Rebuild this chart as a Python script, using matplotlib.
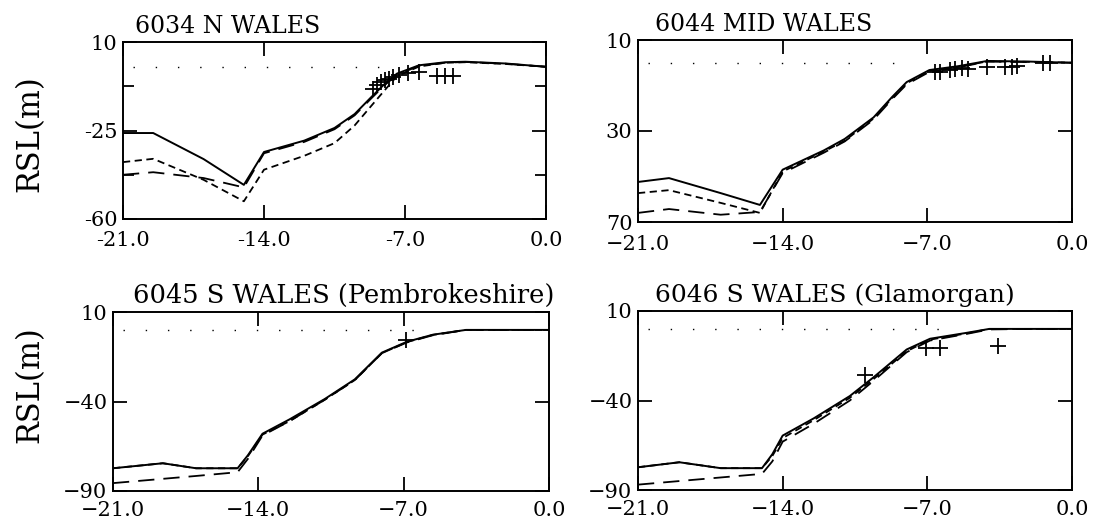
import matplotlib
matplotlib.use("Agg")
import matplotlib.pyplot as plt
from matplotlib.ticker import FixedLocator, FixedFormatter

# ---------------- data ----------------
titles = ["6034 N WALES", "6044 MID WALES",
          "6045 S WALES (Pembrokeshire)", "6046 S WALES (Glamorgan)"]

# Panel 1: 6034 N WALES
t1 = [-21, -19.5, -17, -15, -14, -12, -10.5, -9.5, -8.7, -8, -7.4, -6.3, -5, -4, -2, 0]
solid1 = [-26, -26, -36.3, -46.5, -33.5, -29, -24, -18.5, -12, -6.5, -2.5, 0.8, 2.0, 2.2, 1.5, 0.2]
short1 = [-37.5, -36.2, -44.5, -53, -40.5, -35, -30, -23, -15.5, -9, -3.5, 0.3, 1.8, 2.0, 1.3, 0.2]
long1 = [-42.5, -41.5, -43.8, -47.5, -34, -29.5, -24.5, -19, -12.5, -7, -3, 0.6, 1.8, 2.1, 1.4, 0.2]
obs_x1 = [-8.6, -8.4, -8.2, -8.0, -7.8, -7.6, -7.3, -6.85, -6.3, -5.4, -5.0, -4.6]
obs_y1 = [-8.5, -7.0, -6.0, -5.0, -4.5, -3.8, -3.0, -2.3, -2.0, -3.5, -3.5, -3.5]

# Panel 2: 6044 MID WALES
t2 = [-21, -19.5, -17, -15.1, -14, -12, -11, -9.6, -8.7, -8, -6.9, -5.5, -4.1, -2, 0]
solid2 = [-52.4, -50.7, -57.3, -62.5, -47, -38.5, -33.5, -24, -15, -8.5, -3.2, -1.5, 0.8, 0.5, 0]
short2 = [-57.3, -56, -61.6, -66, -47.8, -39, -34.3, -24.5, -15.5, -9, -3.6, -1.8, 0.6, 0.4, 0]
long2 = [-66, -64.3, -66.8, -65.6, -48.5, -39.5, -34.6, -25, -16, -9.5, -4, -2, 0.5, 0.3, 0]
obs_x2 = [-6.63, -6.39, -5.9, -5.66, -5.32, -5.03, -4.11, -3.24, -2.9, -2.66, -1.4, -1.07]
obs_y2 = [-4.1, -4.1, -3.2, -2.7, -2.3, -2.7, -1.9, -1.9, -1.9, -1.4, -0.1, -0.1]

# Panel 3: 6045 S WALES (Pembrokeshire)
t3 = [-21, -18.6, -17, -15, -14.5, -13.8, -12.5, -10.8, -9.35, -8.05, -6.84, -5.6, -4, -2, 0]
solid3 = [-77.3, -74.5, -77.3, -77.3, -70, -58, -50, -38.6, -27.6, -12.7, -6.6, -2.7, 0, 0, 0]
short3 = [-77.3, -74.5, -77.3, -77.3, -70.5, -58.5, -51, -39, -28, -13, -6.8, -2.8, 0, 0, 0]
long3 = [-85.6, -83.2, -81.6, -79.5, -72, -59, -51, -39, -28, -13, -7, -3, 0, 0, 0]
obs_x3 = [-6.9]
obs_y3 = [-5.5]

# Panel 4: 6046 S WALES (Glamorgan)
t4 = [-21, -19, -17, -15, -14.5, -14, -12.5, -10.75, -9.6, -8, -6.87, -5.1, -4, -2, 0]
solid4 = [-77.3, -74.5, -77.8, -77.8, -70, -59.6, -50, -37.5, -27, -11.5, -5.5, -2.2, 0, 0, 0]
short4 = [-77.3, -74.5, -77.8, -77.8, -71, -61, -51, -38.5, -28, -12.5, -6, -2.5, 0, 0, 0]
long4 = [-87, -85, -83, -81, -74, -63, -53, -40, -29, -13, -6.5, -2.8, -0.3, 0, 0]
obs_x4 = [-10.0, -7.05, -6.4, -3.6]
obs_y4 = [-26, -10.5, -10.5, -9.5]

xticks = [-21, -14, -7, 0]
xlabels_p1 = ["-21.0", "-14.0", "-7.0", "0.0"]
xlabels = ["\u221221.0", "\u221214.0", "\u22127.0", "0.0"]

ylims = [(-60, 10), (-70, 10), (-90, 10), (-90, 10)]
yticks = [[-60, -25, 10], [-70, -30, 10], [-90, -40, 10], [-90, -40, 10]]
ylabels = [["-60", "-25", "10"], ["70", "30", "10"],
           ["\u221290", "\u221240", "10"], ["\u221290", "\u221240", "10"]]
yminor_p1 = [-42.5, -7.5]
dot_end = [-7.6, -7.7, -5.6, -5.6]

series = [
    (t1, solid1, short1, long1, obs_x1, obs_y1),
    (t2, solid2, short2, long2, obs_x2, obs_y2),
    (t3, solid3, short3, long3, obs_x3, obs_y3),
    (t4, solid4, short4, long4, obs_x4, obs_y4),
]

# ---------------- figure ----------------
W, H = 1095, 525
fig = plt.figure(figsize=(W / 100, H / 100), dpi=100)
plt.rcParams['font.family'] = ['DejaVu Serif']

# axes boxes in pixels: left, right, top, bottom
boxes = [(123, 546, 42, 219), (638, 1072, 40, 222),
         (113, 549, 312, 491), (638, 1072, 311, 490)]
title_off = [0.028, 0.04, 0.046, 0.04]
title_size = [17, 17, 18.5, 18]
xpad = [9, 9, 7.5, 7.5]

for i, (bx, data) in enumerate(zip(boxes, series)):
    l, r, t, b = bx
    ax = fig.add_axes([l / W, (H - b) / H, (r - l) / W, (b - t) / H])
    tt, s, sd, ld, ox, oy = data
    ax.plot([-20.5, dot_end[i]], [0, 0], color='black', lw=1.0,
            linestyle=(0, (1, 15)))
    ax.plot(tt, ld, color='black', lw=1.3, linestyle=(0, (9, 5)))
    ax.plot(tt, sd, color='black', lw=1.3, linestyle=(0, (4, 2.5)))
    ax.plot(tt, s, color='black', lw=1.4, linestyle='-')
    ax.plot(ox, oy, linestyle='none', marker='+', color='black',
            markersize=11, markeredgewidth=1.3)
    ax.set_xlim(-21, 0)
    ax.set_ylim(*ylims[i])
    ax.xaxis.set_major_locator(FixedLocator(xticks))
    ax.xaxis.set_major_formatter(FixedFormatter(xlabels_p1 if i == 0 else xlabels))
    ax.yaxis.set_major_locator(FixedLocator(yticks[i]))
    ax.yaxis.set_major_formatter(FixedFormatter(ylabels[i]))
    if i == 0:
        ax.yaxis.set_minor_locator(FixedLocator(yminor_p1))
    ax.tick_params(which='both', direction='in', top=True, right=True,
                   length=10, width=1.3, labelsize=15, color='black')
    ax.tick_params(axis='x', pad=xpad[i])
    ax.tick_params(axis='y', pad=4)
    ax.tick_params(which='minor', length=8)
    for sp in ax.spines.values():
        sp.set_linewidth(1.4)
    ax.text(title_off[i], 1.05, titles[i], transform=ax.transAxes,
            ha='left', va='baseline', fontsize=title_size[i])

fig.text(30 / W, 1 - 134 / H, "RSL(m)", rotation=90, ha='center', va='center', fontsize=22)
fig.text(30 / W, 1 - 385 / H, "RSL(m)", rotation=90, ha='center', va='center', fontsize=22)

fig.savefig("out.png", dpi=100)
